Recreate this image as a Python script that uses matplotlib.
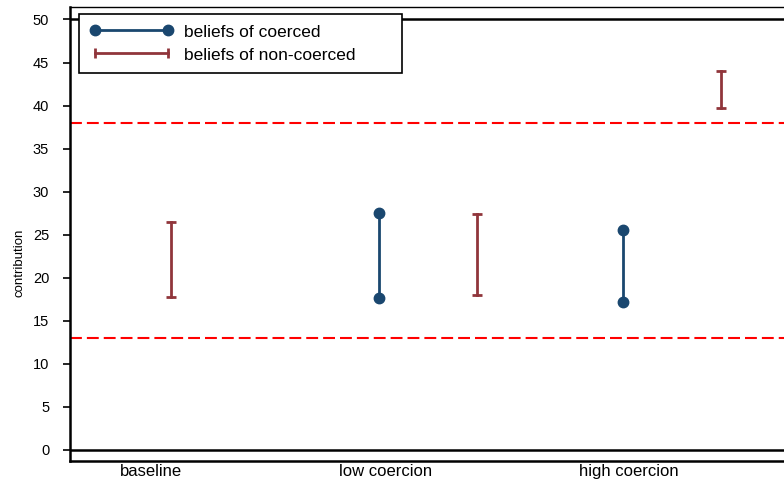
import matplotlib
matplotlib.use('Agg')
import matplotlib.pyplot as plt
from matplotlib.lines import Line2D

plt.rcParams['font.family'] = ['Liberation Sans', 'DejaVu Sans']

# category labels and where they sit on the x axis
categories = ['baseline', 'low coercion', 'high coercion']
category_pos = [0.81, 3.16, 5.59]

# beliefs of coerced (low / high end of range)
coerced_x = [3.09, 5.53]
coerced_low = [17.7, 17.2]
coerced_high = [27.5, 25.6]

# beliefs of non-coerced
noncoerced_x = [1.01, 4.07, 6.51]
noncoerced_low = [17.8, 18.0, 39.7]
noncoerced_high = [26.5, 27.4, 44.0]

# reference lines
ref_lines = [13, 38]

navy = '#1a476f'
maroon = '#90353b'

fig = plt.figure(figsize=(7.84, 4.8), dpi=100)
ax = fig.add_axes([70 / 784, 1 - 461 / 480, 1 - 70 / 784, (461 - 7) / 480])

for y in ref_lines:
    ax.axhline(y, color='red', lw=1.5, linestyle=(0, (5.7, 2.4)), zorder=1)
ax.axhline(0, color='black', lw=1.8, zorder=1)
ax.axhline(50, color='black', lw=1.8, zorder=1)

for x, lo, hi in zip(coerced_x, coerced_low, coerced_high):
    ax.plot([x, x], [lo, hi], color=navy, lw=2, marker='o', ms=7.5, zorder=3)
for x, lo, hi in zip(noncoerced_x, noncoerced_low, noncoerced_high):
    ax.plot([x, x], [lo, hi], color=maroon, lw=2, marker='_', ms=7.5, mew=2, zorder=3)

ax.set_xlim(0, 7.14)
ax.set_ylim(-1.28, 51.45)
ax.set_yticks(range(0, 51, 5))
ax.set_xticks(category_pos)
ax.set_xticklabels(categories)
ax.tick_params(axis='y', length=5, width=1.2, labelsize=10.5, pad=10)
ax.tick_params(axis='x', length=0, labelsize=12, pad=2)

ax.spines['right'].set_visible(False)
ax.spines['top'].set_linewidth(1.0)
ax.spines['left'].set_linewidth(1.8)
ax.spines['bottom'].set_linewidth(1.8)

ax.set_ylabel('contribution', fontsize=9.5)
ax.yaxis.set_label_coords(-0.062, 0.436)

handles = [
    Line2D([], [], color=navy, lw=2, marker='o', ms=7.5),
    Line2D([], [], color=maroon, lw=2, marker='|', ms=7.5, mew=2),
]
leg = fig.legend(handles, ['beliefs of coerced', 'beliefs of non-coerced'],
                 loc='upper left', mode='expand',
                 bbox_to_anchor=(79 / 784, 1 - 71 / 480, (402 - 79) / 784, 57 / 480),
                 numpoints=2, fontsize=12.5, handlelength=4.8, handletextpad=0.65,
                 labelspacing=0.45, borderpad=0.6, borderaxespad=0,
                 fancybox=False, framealpha=1, edgecolor='black')
leg.get_frame().set_linewidth(1.2)

fig.savefig('out.png', dpi=100)
